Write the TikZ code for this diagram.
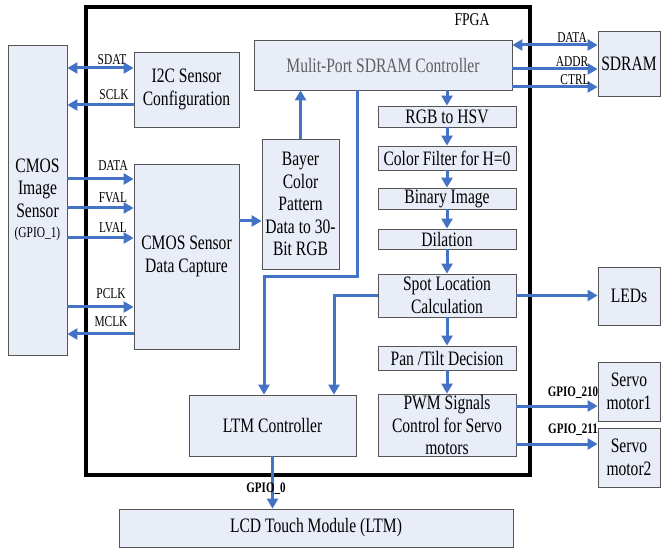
\documentclass[tikz,border=0pt]{standalone}
\usepackage{fontspec}
\setmainfont[FakeStretch=0.76]{Liberation Serif}
\usetikzlibrary{arrows.meta}
\definecolor{boxfill}{RGB}{232,237,247}
\definecolor{boxline}{RGB}{85,85,85}
\definecolor{sigblue}{RGB}{68,114,196}
\definecolor{dimtext}{RGB}{95,95,95}
\tikzset{
  blk/.style={draw=boxline, fill=boxfill, line width=0.8pt, inner sep=0pt, align=center,
    font=\fontsize{20.5}{22.5}\selectfont},
  sig/.style={draw=sigblue, line width=3pt, -{Triangle[length=10pt,width=11pt]}},
  bisig/.style={sig, {Triangle[length=10pt,width=11pt]}-{Triangle[length=10pt,width=11pt]}},
  lbl/.style={font=\fontsize{15}{16}\selectfont, inner sep=0pt},
  gpio/.style={font=\fontsize{14.5}{16}\selectfont\bfseries, inner sep=0pt}
}
\begin{document}
\begin{tikzpicture}[x=1pt,y=1pt,yscale=-1,xscale=1]
        \useasboundingbox (0,0) rectangle (662,548);
        \draw [line width=4pt] (86,7) rectangle (530,475);
        \node (fpga) at (472,20) [font=\fontsize{18}{19}\selectfont, inner sep=0pt] {FPGA};
        % blocks
        \node [blk, minimum width=59pt, minimum height=310pt] (cmos) at (37.5,200) {CMOS\\Image\\Sensor\\[-2pt]{\fontsize{15}{16}\selectfont (GPIO\_1)}};
        \node [blk, minimum width=105pt, minimum height=75pt] (i2c) at (186.5,89.5) {I2C Sensor\\Configuration};
        \node [blk, minimum width=105pt, minimum height=185pt] (cap) at (186.5,256.5) {CMOS Sensor\\Data Capture};
        \node [blk, minimum width=77pt, minimum height=130pt] (bayer) at (300.5,204) {Bayer\\Color\\Pattern\\Data to 30-\\Bit RGB};
        \node [blk, minimum width=258pt, minimum height=50pt, text=dimtext] (sdc) at (383,65) {Mulit-Port SDRAM Controller};
        \node [blk, minimum width=62pt, minimum height=65pt] (sdram) at (629,63.5) {SDRAM};
        \node [blk, minimum width=138pt, minimum height=21pt] (hsv) at (447,116.5) {RGB to HSV};
        \node [blk, minimum width=138pt, minimum height=24pt] (cf) at (447,158) {Color Filter for H=0};
        \node [blk, minimum width=138pt, minimum height=21pt] (bin) at (447,198.5) {Binary Image};
        \node [blk, minimum width=138pt, minimum height=20pt] (dil) at (447,239) {Dilation};
        \node [blk, minimum width=138pt, minimum height=43pt] (spot) at (447,295.5) {Spot Location\\Calculation};
        \node [blk, minimum width=138pt, minimum height=24pt] (pan) at (447,358) {Pan /Tilt Decision};
        \node [blk, minimum width=138pt, minimum height=62pt] (pwm) at (447,425) {PWM Signals\\Control for Servo\\motors};
        \node [blk, minimum width=167pt, minimum height=61pt] (ltm) at (272.5,425.5) {LTM Controller};
        \node [blk, minimum width=394pt, minimum height=38pt] (lcd) at (316,528) {LCD Touch Module (LTM)};
        \node [blk, minimum width=62pt, minimum height=58pt] (leds) at (629,296) {LEDs};
        \node [blk, minimum width=62pt, minimum height=59pt] (servoa) at (629,391.5) {Servo\\motor1};
        \node [blk, minimum width=62pt, minimum height=59pt] (servob) at (629,457.5) {Servo\\motor2};
        % sensor side
        \draw [bisig] (cmos.east |- 0,68) -- (i2c.west |- 0,68);
        \draw [sig] (i2c.west |- 0,105) -- (cmos.east |- 0,105);
        \draw [sig] (cmos.east |- 0,179) -- (cap.west |- 0,179);
        \draw [sig] (cmos.east |- 0,208) -- (cap.west |- 0,208);
        \draw [sig] (cmos.east |- 0,238) -- (cap.west |- 0,238);
        \draw [sig] (cmos.east |- 0,307) -- (cap.west |- 0,307);
        \draw [sig] (cap.west |- 0,334) -- (cmos.east |- 0,334);
        \node [lbl] (sdatlbl) at (112,60) {SDAT};
        \node [lbl] (sclklbl) at (114,95) {SCLK};
        \node [lbl] (datalbl) at (113,166) {DATA};
        \node [lbl] (fvallbl) at (113,198) {FVAL};
        \node [lbl] (lvallbl) at (113,228) {LVAL};
        \node [lbl] (pclklbl) at (111,294) {PCLK};
        \node [lbl] (mclklbl) at (111,322) {MCLK};
        % data path
        \draw [sig] (cap.east |- 0,221) -- (bayer.west |- 0,221);
        \draw [sig] (bayer.north) -- (bayer.north |- sdc.south);
        \draw [sig] (hsv.north |- sdc.south) -- (hsv.north);
        \draw [sig] (hsv.south) -- (cf.north);
        \draw [sig] (cf.south) -- (bin.north);
        \draw [sig] (bin.south) -- (dil.north);
        \draw [sig] (dil.south) -- (spot.north);
        \draw [sig] (spot.south) -- (pan.north);
        \draw [sig] (pan.south) -- (pwm.north);
        \draw [sig] (sdc.south -| 357,0) -- (357,277) -| (ltm.north -| 264,0);
        \draw [sig] (spot.west) -| (ltm.north -| 334,0);
        \draw [sig] (ltm.south) -- (ltm.south |- lcd.north);
        \node [gpio] (gpiozero) at (266,489) {GPIO\_0};
        % SDRAM side
        \draw [bisig] (sdc.east |- 0,45) -- (sdram.west |- 0,45);
        \draw [sig] (sdc.east |- 0,69) -- (sdram.west |- 0,69);
        \draw [sig] (sdc.east |- 0,87) -- (sdram.west |- 0,87);
        \node [lbl] (sdatalbl) at (572,38) {DATA};
        \node [lbl] (addrlbl) at (572,62) {ADDR};
        \node [lbl] (ctrllbl) at (575,80) {CTRL};
        % outputs
        \draw [sig] (spot.east) -- (leds.west |- spot.east);
        \draw [sig] (pwm.east |- 0,406) -- (servoa.west |- 0,406);
        \draw [sig] (pwm.east |- 0,444) -- (servob.west |- 0,444);
        \node [gpio] (gpioa) at (573,393) {GPIO\_210};
        \node [gpio] (gpiob) at (573,430) {GPIO\_211};
\end{tikzpicture}
\end{document}
